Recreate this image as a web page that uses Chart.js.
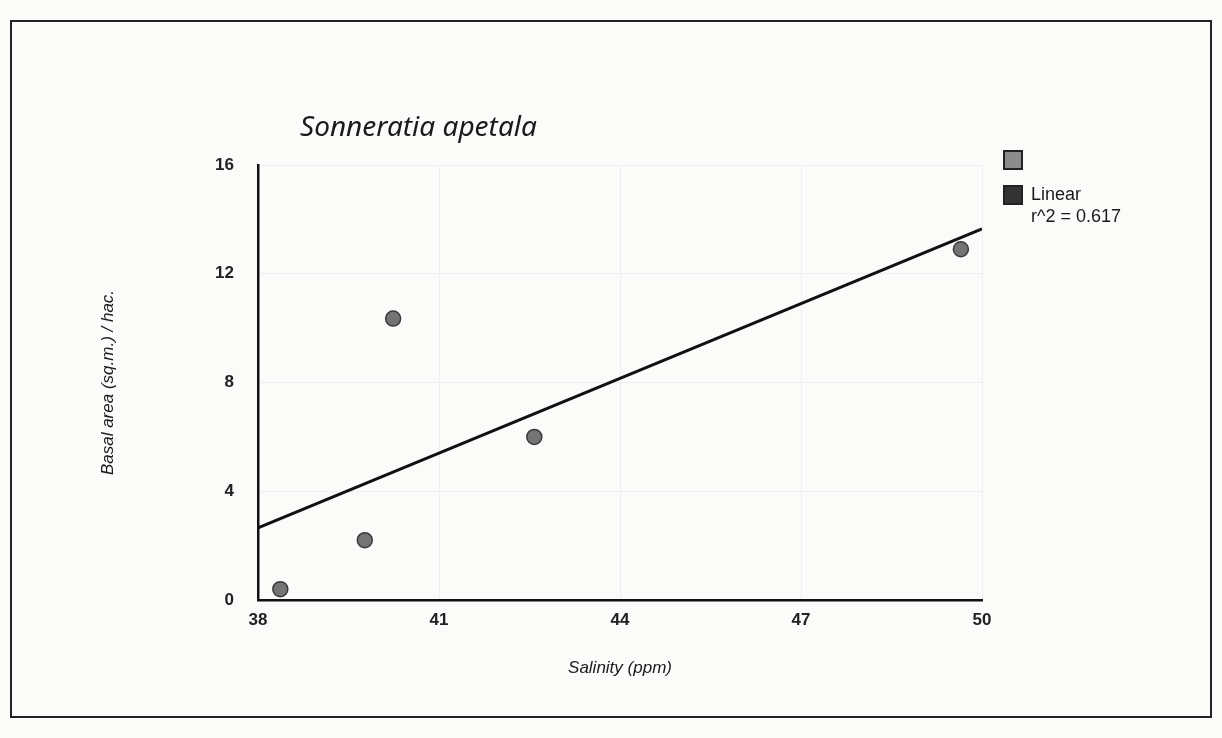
<!DOCTYPE html>
<html lang="en">
<head>
  <meta charset="UTF-8" />
  <title>Sonneratia apetala - Basal area vs Salinity</title>
  <script src="https://cdn.jsdelivr.net/npm/chart.js"></script>
  <style>
    html, body { margin: 0; padding: 0; background: #fbfbfa; }
    #wrap { position: relative; width: 1222px; height: 738px; overflow: hidden; }
    #frame { position: absolute; left: 10px; top: 20px; width: 1198px; height: 694px; border: 2px solid #222; }
    #chartTitle { position: absolute; left: 300px; top: 106px; font: italic 28px "Noto Sans", sans-serif; color: #1a1a1a; }
    #legend { position: absolute; left: 1003px; top: 142px; font: 18px "Liberation Sans", Arial, sans-serif; color: #1a1a1a; }
    .row { display: flex; align-items: center; height: 35px; }
    .box { width: 20px; height: 20px; border: 2px solid #222; box-sizing: border-box; margin-right: 8px; }
    .sub { margin-left: 28px; margin-top: -6px; }
  </style>
</head>
<body>
  <div id="wrap">
    <div id="frame"></div>
    <canvas id="salinityChart" width="1222" height="738"></canvas>
    <div id="chartTitle">Sonneratia apetala</div>
    <div id="legend">
      <div class="row"><div class="box" style="background:#8c8c8c"></div></div>
      <div class="row"><div class="box" style="background:#333"></div><span>Linear</span></div>
      <div class="sub">r^2 = 0.617</div>
    </div>
  </div>

  <script>
    // values
    const salinity = [38.37, 39.77, 40.24, 42.58, 49.65];
    const basalArea = [0.4, 2.2, 10.35, 6.0, 12.9];
    const trendX = [38, 50];
    const trendY = [2.65, 13.65];
    const xTicks = [38, 41, 44, 47, 50];
    const yTicks = [0, 4, 8, 12, 16];

    const points = salinity.map((x, i) => ({ x: x, y: basalArea[i] }));
    const trend = trendX.map((x, i) => ({ x: x, y: trendY[i] }));

    const tickFont = { family: '"Liberation Sans", Arial', size: 17, weight: 'bold' };
    const titleFont = { family: '"Liberation Sans", Arial', size: 17, style: 'italic' };

    const ctx = document.getElementById('salinityChart').getContext('2d');
    new Chart(ctx, {
      type: 'scatter',
      data: {
        datasets: [
          {
            label: 'Basal area',
            data: points,
            backgroundColor: '#747474',
            borderColor: '#3a3a3a',
            borderWidth: 1.5,
            pointRadius: 7.5
          },
          {
            label: 'Linear',
            type: 'line',
            data: trend,
            borderColor: '#111',
            borderWidth: 3,
            pointRadius: 0,
            fill: false
          }
        ]
      },
      options: {
        responsive: false,
        animation: false,
        layout: { padding: { left: 0, top: 165, right: 240, bottom: 0 } },
        plugins: { legend: { display: false }, tooltip: { enabled: false } },
        scales: {
          x: {
            type: 'linear',
            min: xTicks[0],
            max: xTicks[xTicks.length - 1],
            afterBuildTicks: s => { s.ticks = xTicks.map(v => ({ value: v })); },
            afterFit: s => { s.height = 138; },
            grid: { color: '#efefef', drawTicks: false },
            border: { color: '#111', width: 2.5 },
            ticks: { padding: 10, color: '#222', font: tickFont },
            title: {
              display: true,
              text: 'Salinity (ppm)',
              color: '#1a1a1a',
              font: titleFont,
              padding: { top: 0, bottom: 60 }
            }
          },
          y: {
            min: yTicks[0],
            max: yTicks[yTicks.length - 1],
            afterBuildTicks: s => { s.ticks = yTicks.map(v => ({ value: v })); },
            afterFit: s => { s.width = 258; },
            grid: { color: '#efefef', drawTicks: false },
            border: { color: '#111', width: 2.5 },
            ticks: { padding: 24, color: '#222', font: tickFont },
            title: {
              display: true,
              text: 'Basal area (sq.m.) / hac.',
              color: '#1a1a1a',
              font: titleFont,
              padding: { top: 98, bottom: 0 }
            }
          }
        }
      }
    });
  </script>
</body>
</html>
